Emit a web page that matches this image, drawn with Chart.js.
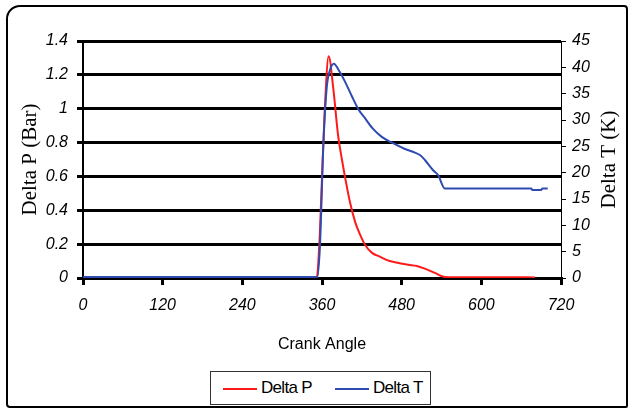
<!DOCTYPE html>
<html>
<head>
<meta charset="utf-8">
<script src="https://cdn.jsdelivr.net/npm/chart.js@4.4.1/dist/chart.umd.min.js"></script>
<style>
  html, body { margin: 0; padding: 0; background: #fff; }
  #wrap { position: relative; width: 629px; height: 409px; overflow: hidden; }
  #c { position: absolute; left: 0; top: 0; }
  #frame {
    position: absolute; left: 6px; top: 5px; width: 622px; height: 403px;
    box-sizing: border-box; border: 2px solid #000; border-radius: 14px 4px 2px 4px;
    pointer-events: none;
  }
  #legend {
    position: absolute; left: 210px; top: 371px; width: 221px; height: 34px;
    box-sizing: border-box; border: 1px solid #333; background: #fff;
    font-family: 'Liberation Sans', Arial, sans-serif;
    font-size: 17px; color: #000; letter-spacing: -0.7px;
  }
  .item { position: absolute; top: 6px; line-height: 20px; }
  .sw { display: inline-block; width: 34px; height: 2px; vertical-align: middle; margin-right: 4px; }
</style>
</head>
<body>
<div id="wrap">
  <canvas id="c" width="629" height="409"></canvas>
  <div id="frame"></div>
  <div id="legend">
    <span class="item" style="left:12px"><span class="sw" style="background:#ff1a1a"></span>Delta P</span>
    <span class="item" style="left:124px"><span class="sw" style="background:#2e4bb0"></span>Delta T</span>
  </div>
</div>
<script>
// Delta P (Bar) vs crank angle
const pAngle = [0, 352, 356, 359, 364, 370, 377, 384, 390, 395, 402, 410, 418, 425, 435, 447, 462, 477, 490, 503, 515, 530, 543, 560, 600, 640, 681];
const pValue = [0, 0, 0.2, 0.49, 0.98, 1.31, 1.12, 0.85, 0.70, 0.59, 0.45, 0.33, 0.25, 0.195, 0.15, 0.126, 0.10, 0.087, 0.078, 0.071, 0.055, 0.03, 0.008, 0.005, 0.005, 0.005, 0.003];

// Delta T (K) vs crank angle
const tAngle = [0, 353, 357, 362, 367, 372, 378, 385, 395, 405, 415, 425, 437, 450, 467, 485, 500, 508, 515, 527, 535, 545, 560, 600, 640, 675, 677, 690, 692, 700];
const tValue = [0.2, 0.2, 6.3, 25.2, 36, 39.5, 40.7, 39.5, 37.2, 34.5, 32, 30.3, 28.3, 26.8, 25.6, 24.5, 23.8, 23.3, 22.4, 20.5, 19.5, 17.0, 17, 17, 17, 17, 16.7, 16.7, 17, 17];

const xTicks = [0, 120, 240, 360, 480, 600, 720];
const pTicks = [0, 0.2, 0.4, 0.6, 0.8, 1, 1.2, 1.4];
const tTicks = [0, 5, 10, 15, 20, 25, 30, 35, 40, 45];

const tickFont = { family: "'Liberation Sans', Arial, sans-serif", size: 16, style: 'italic' };
const serifFont = { family: "'Liberation Serif', 'Times New Roman', serif", size: 21 };

function useTicks(list) {
  return (scale) => { scale.ticks = list.map((v) => ({ value: v })); };
}
const plain = (v) => String(v);

// right axis title reads bottom to top like the left one
const rightTitle = {
  id: 'rightTitle',
  afterDraw(chart) {
    const { ctx, chartArea } = chart;
    ctx.save();
    ctx.translate(609, (chartArea.top + chartArea.bottom) / 2);
    ctx.rotate(-Math.PI / 2);
    ctx.font = "21px 'Liberation Serif', 'Times New Roman', serif";
    ctx.fillStyle = '#000';
    ctx.textAlign = 'center';
    ctx.textBaseline = 'middle';
    ctx.fillText('Delta T (K)', 0, 0);
    ctx.restore();
  },
};

new Chart(document.getElementById('c').getContext('2d'), {
  type: 'line',
  data: {
    datasets: [
      {
        label: 'Delta P',
        data: pAngle.map((a, i) => ({ x: a, y: pValue[i] })),
        borderColor: '#ff1a1a',
        borderWidth: 2,
        pointRadius: 0,
        cubicInterpolationMode: 'monotone',
        yAxisID: 'y',
        order: 1,
      },
      {
        label: 'Delta T',
        data: tAngle.map((a, i) => ({ x: a, y: tValue[i] })),
        borderColor: '#2e4bb0',
        borderWidth: 2,
        pointRadius: 0,
        cubicInterpolationMode: 'monotone',
        yAxisID: 'y1',
        order: 0,
      },
    ],
  },
  options: {
    responsive: false,
    animation: false,
    layout: { padding: { left: 0, right: 0, top: 41, bottom: 0 } },
    plugins: { legend: { display: false }, tooltip: { enabled: false } },
    scales: {
      x: {
        type: 'linear',
        min: 0,
        max: 720,
        afterBuildTicks: useTicks(xTicks),
        afterFit: (s) => { s.height = 131; },
        grid: { drawOnChartArea: false, color: '#000', lineWidth: 3, tickLength: 7 },
        border: { color: '#000', width: 3 },
        ticks: { color: '#000', font: tickFont, padding: 11, maxRotation: 0, callback: plain },
        title: {
          display: true,
          text: 'Crank Angle',
          color: '#000',
          font: { family: "'Liberation Sans', Arial, sans-serif", size: 16 },
          padding: { top: 0, bottom: 55 },
        },
      },
      y: {
        position: 'left',
        min: 0,
        max: 1.4,
        afterBuildTicks: useTicks(pTicks),
        afterFit: (s) => { s.width = 83; },
        grid: { color: '#000', lineWidth: 3, tickLength: 6 },
        border: { color: '#000', width: 2 },
        ticks: { color: '#000', font: tickFont, padding: 9, callback: plain },
        title: { display: true, text: 'Delta P (Bar)', color: '#000', font: serifFont, padding: { top: 18, bottom: 0 } },
      },
      y1: {
        position: 'right',
        min: 0,
        max: 45,
        afterBuildTicks: useTicks(tTicks),
        afterFit: (s) => { s.width = 68; },
        grid: { drawOnChartArea: false, color: '#000', lineWidth: 1, tickLength: 5 },
        border: { color: '#000', width: 1 },
        ticks: { color: '#000', font: tickFont, padding: 6, callback: plain },
      },
    },
  },
  plugins: [rightTitle],
});
</script>
</body>
</html>
